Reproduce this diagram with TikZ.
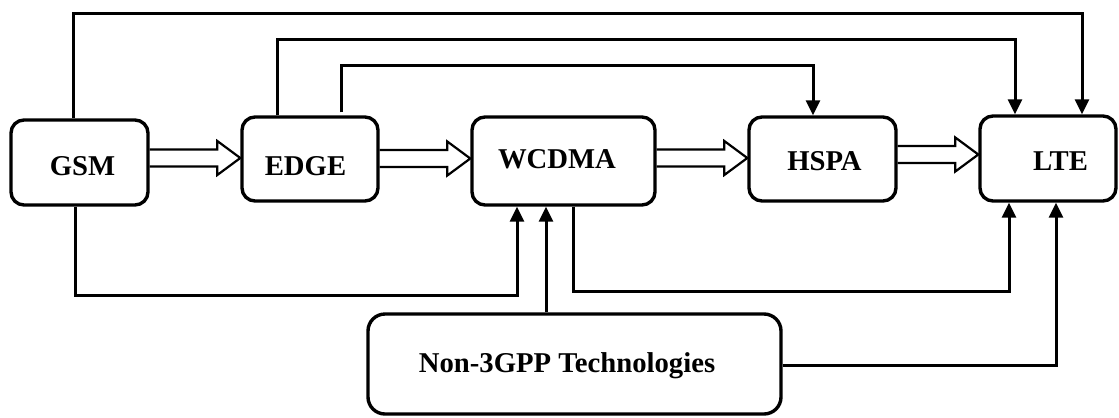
\documentclass[tikz,border=0pt]{standalone}
\usepackage{fontspec}
\setmainfont{Liberation Serif}
\usetikzlibrary{arrows.meta,calc}

% Hollow block arrow from the east side of node #1 to the west side of node #2, on height #3
\newcommand\hollowarrow[3]{%
  \path (#1.east |- 0,#3) coordinate (ha-s) (#2.west |- 0,#3) coordinate (ha-e);
  \draw[blockarrow] ($(ha-s)+(0,-8.5)$) -- ($(ha-e)+(-23,-8.5)$) -- ($(ha-e)+(-23,-17)$)
    -- (ha-e) -- ($(ha-e)+(-23,17)$) -- ($(ha-e)+(-23,8.5)$) -- ($(ha-s)+(0,8.5)$);}

\begin{document}
\begin{tikzpicture}[x=1bp,y=-1bp,
  box/.style={draw, line width=3.4bp, rounded corners=13bp, inner sep=0pt},
  lbl/.style={anchor=base, inner sep=0pt, font=\fontsize{28.8}{34}\selectfont\bfseries},
  conn/.style={line width=3bp, -{Triangle[length=15bp,width=14bp]}},
  blockarrow/.style={line width=2.2bp, line join=miter}]
\useasboundingbox[fill=white] (0,0) rectangle (1119,417);

% technology boxes
\node[box, minimum width=137bp, minimum height=85bp] (gsm)   at (79.5,162.5) {};
\node[box, minimum width=136bp, minimum height=84bp] (edge)  at (310,159) {};
\node[box, minimum width=183bp, minimum height=88bp] (wcdma) at (563.5,161) {};
\node[box, minimum width=147bp, minimum height=84bp] (hspa)  at (822.5,159) {};
\node[box, minimum width=136bp, minimum height=85bp] (lte)   at (1048,158.5) {};
\node[box, rounded corners=17bp, minimum width=413bp, minimum height=100bp] (non) at (574.5,364) {};

% labels
\node[lbl] (gsm-t)   at (82.5,175)  {GSM};
\node[lbl] (edge-t)  at (305.5,175) {EDGE};
\node[lbl] (wcdma-t) at (557,168)   {WCDMA};
\node[lbl] (hspa-t)  at (824.5,170) {HSPA};
\node[lbl] (lte-t)   at (1060.5,170) {LTE};
\node[lbl] (non-t)   at (567,372)   {Non-3GPP Technologies};

% evolution path
\hollowarrow{gsm}{edge}{158}
\hollowarrow{edge}{wcdma}{158.5}
\hollowarrow{wcdma}{hspa}{158}
\hollowarrow{hspa}{lte}{154.5}

% direct upgrade routes over the top
\draw[conn] (gsm.north -| 73,0) -- (73,13) -| (lte.north -| 1082,0);
\draw[conn] (edge.north -| 277,0) -- (277,39) -| (lte.north -| 1015,0);
\draw[conn, shorten <=3bp] (edge.north -| 341,0) -- (341,65) -| (hspa.north -| 813,0);

% routes underneath
\draw[conn] (gsm.south -| 75,0) -- (75,295) -| (wcdma.south -| 517,0);
\draw[conn] (non.north -| 546,0) -- (wcdma.south -| 546,0);
\draw[conn] (wcdma.south -| 573,0) -- (573,291) -| (lte.south -| 1009,0);
\draw[conn] (non.east |- 0,365) -| (lte.south -| 1056,0);
\end{tikzpicture}
\end{document}
